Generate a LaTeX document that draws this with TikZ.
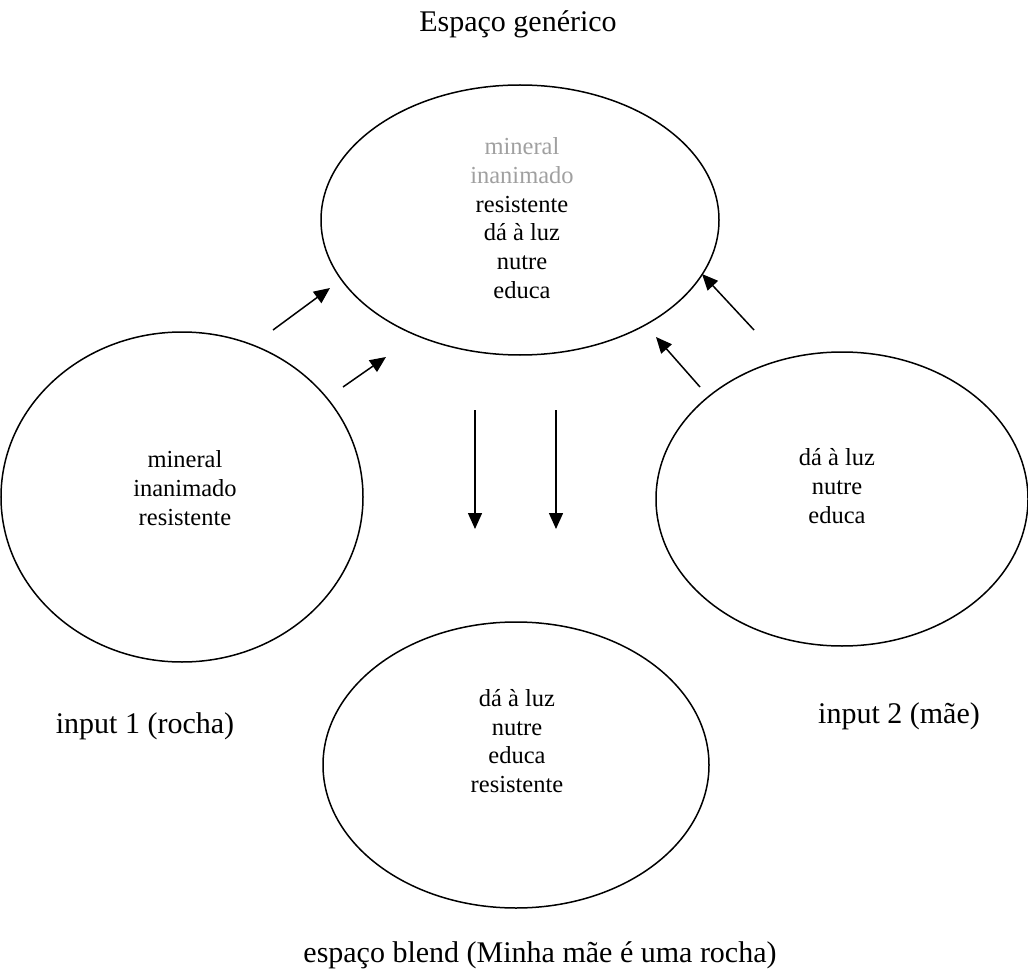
\documentclass[tikz,border=0pt]{standalone}
\usepackage{fontspec}
\setmainfont{Liberation Serif}
\usetikzlibrary{shapes.geometric,arrows.meta}
\tikzset{
  oval/.style={draw=black, line width=1.5pt, ellipse, inner sep=0pt, outer sep=0pt},
  inner/.style={align=center, font=\fontsize{24.5}{28.7}\selectfont, inner sep=0pt},
  outer/.style={font=\fontsize{30}{35}\selectfont, inner sep=0pt, anchor=base},
  arr/.style={line width=1.5pt, -{Triangle[length=16pt,width=14pt]}},
}
\definecolor{fadedgray}{RGB}{160,160,160}
\begin{document}
\begin{tikzpicture}[x=1pt,y=-1pt]
\useasboundingbox (0,0) rectangle (1028,976);
% ovals
\node[oval, minimum width=398pt, minimum height=270pt] (gen) at (520,220) {};
\node[oval, minimum width=362pt, minimum height=330pt] (in1) at (182,497) {};
\node[oval, minimum width=372pt, minimum height=294pt] (in2) at (842,499) {};
\node[oval, minimum width=386pt, minimum height=286pt] (bl) at (516,765) {};
% inner texts
\node[inner] (gentxt) at (522,218) {\textcolor{fadedgray}{mineral}\\\textcolor{fadedgray}{inanimado}\\resistente\\dá à luz\\nutre\\educa};
\node[inner] (in1txt) at (185,488) {mineral\\inanimado\\resistente};
\node[inner] (in2txt) at (837,486) {dá à luz\\nutre\\educa};
\node[inner] (bltxt) at (517,741) {dá à luz\\nutre\\educa\\resistente};
% outer labels
\node[outer] (genlbl) at (518,32) {Espaço genérico};
\node[outer] (in1lbl) at (145,733) {input 1 (rocha)};
\node[outer] (in2lbl) at (899,723) {input 2 (mãe)};
\node[outer] (bllbl) at (540,962) {espaço blend (Minha mãe é uma rocha)};
% arrow end points
\coordinate (a1s) at (273,330); \coordinate (a1e) at (330,288);
\coordinate (a2s) at (343,387); \coordinate (a2e) at (386,357);
\coordinate (a3s) at (754,330); \coordinate (a3e) at (702,274);
\coordinate (a4s) at (700,387); \coordinate (a4e) at (656,337);
\coordinate (a5s) at (475,410); \coordinate (a5e) at (475,529);
\coordinate (a6s) at (556,410); \coordinate (a6e) at (556,529);
\draw[arr] (a1s) -- (a1e);
\draw[arr] (a2s) -- (a2e);
\draw[arr] (a3s) -- (a3e);
\draw[arr] (a4s) -- (a4e);
\draw[arr] (a5s) -- (a5e);
\draw[arr] (a6s) -- (a6e);
\end{tikzpicture}
\end{document}
